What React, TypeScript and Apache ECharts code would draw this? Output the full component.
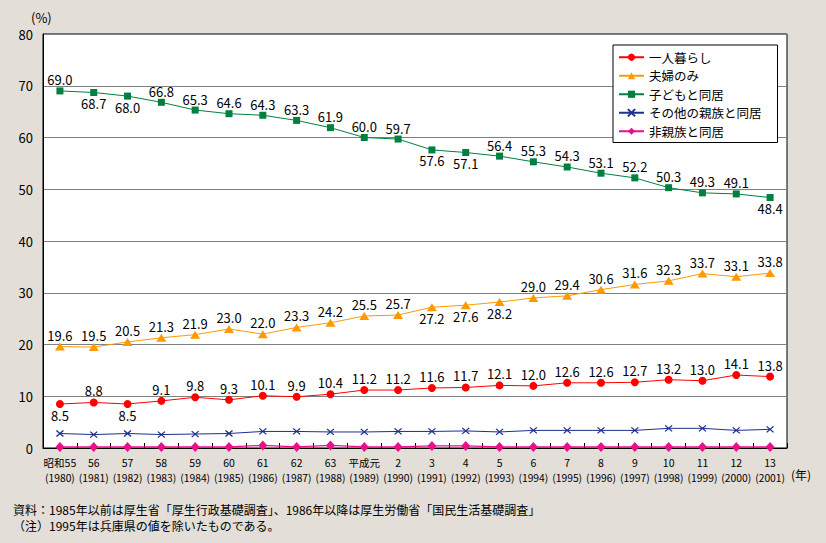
import React, { useEffect, useRef } from "react";
import * as echarts from "echarts";

const eraLabels = ["昭和55", "56", "57", "58", "59", "60", "61", "62", "63", "平成元", "2", "3", "4", "5", "6", "7", "8", "9", "10", "11", "12", "13"];
const years = ["1980", "1981", "1982", "1983", "1984", "1985", "1986", "1987", "1988", "1989", "1990", "1991", "1992", "1993", "1994", "1995", "1996", "1997", "1998", "1999", "2000", "2001"];

const livingAlone = [8.5, 8.8, 8.5, 9.1, 9.8, 9.3, 10.1, 9.9, 10.4, 11.2, 11.2, 11.6, 11.7, 12.1, 12.0, 12.6, 12.6, 12.7, 13.2, 13.0, 14.1, 13.8];
const coupleOnly = [19.6, 19.5, 20.5, 21.3, 21.9, 23.0, 22.0, 23.3, 24.2, 25.5, 25.7, 27.2, 27.6, 28.2, 29.0, 29.4, 30.6, 31.6, 32.3, 33.7, 33.1, 33.8];
const withChildren = [69.0, 68.7, 68.0, 66.8, 65.3, 64.6, 64.3, 63.3, 61.9, 60.0, 59.7, 57.6, 57.1, 56.4, 55.3, 54.3, 53.1, 52.2, 50.3, 49.3, 49.1, 48.4];
const otherRelatives = [2.8, 2.6, 2.8, 2.6, 2.7, 2.8, 3.2, 3.2, 3.1, 3.1, 3.2, 3.2, 3.3, 3.1, 3.4, 3.4, 3.4, 3.4, 3.8, 3.8, 3.4, 3.6];
const nonRelatives = [0.2, 0.2, 0.2, 0.2, 0.2, 0.2, 0.5, 0.2, 0.5, 0.2, 0.2, 0.4, 0.4, 0.2, 0.2, 0.2, 0.2, 0.2, 0.2, 0.2, 0.2, 0.2];

const seriesNames = ["一人暮らし", "夫婦のみ", "子どもと同居", "その他の親族と同居", "非親族と同居"];

// indices whose value label sits below the point
const aloneBelow = [0, 2];
const coupleBelow = [11, 12, 13];
const childrenBelow = [1, 2, 11, 12, 21];

const sourceNote = "資料：1985年以前は厚生省「厚生行政基礎調査」、1986年以降は厚生労働省「国民生活基礎調査」";
const remarkNote = "（注）1995年は兵庫県の値を除いたものである。";

const FONT = "'Noto Sans CJK JP', 'Noto Sans', sans-serif";

function labeled(values: number[], below: number[]) {
  return values.map((v, i) => ({
    value: v,
    label: { position: below.includes(i) ? "bottom" : "top" },
  }));
}

export default function App() {
  const ref = useRef<HTMLDivElement>(null);
  useEffect(() => {
    document.body.style.margin = "0";
    const chart = echarts.init(ref.current!, null, { renderer: "svg" });
    const valueLabel = {
      show: true,
      distance: 1,
      color: "#000",
      fontSize: 13,
      fontFamily: FONT,
      formatter: (p: any) => Number(p.value).toFixed(1),
    };
    chart.setOption({
      animation: false,
      backgroundColor: "#E3DED7",
      textStyle: { fontFamily: FONT },
      grid: {
        left: 43,
        right: 39,
        top: 34,
        bottom: 95,
        show: true,
        backgroundColor: "#fff",
        borderColor: "#000",
        borderWidth: 1,
      },
      legend: {
        orient: "vertical",
        left: 613,
        top: 45,
        backgroundColor: "#fff",
        borderColor: "#000",
        borderWidth: 1,
        borderRadius: 0,
        padding: [6, 16, 5, 5],
        itemWidth: 25,
        itemHeight: 9,
        itemGap: 6,
        textStyle: { fontSize: 12.5, color: "#000", fontFamily: FONT },
        data: seriesNames,
      },
      xAxis: [
        {
          type: "category",
          data: eraLabels,
          boundaryGap: true,
          axisLine: { lineStyle: { color: "#000", width: 1 } },
          axisTick: { show: true, inside: true, length: 5, lineStyle: { color: "#000" } },
          axisLabel: { interval: 0, color: "#000", fontSize: 10.5, lineHeight: 12, margin: 8, fontFamily: FONT },
          splitLine: { show: false },
        },
        {
          type: "category",
          position: "bottom",
          offset: 15,
          data: years.map((y) => `(${y})`),
          boundaryGap: true,
          axisLine: { show: false },
          axisTick: { show: false },
          axisLabel: { interval: 0, color: "#000", fontSize: 10.3, lineHeight: 12, margin: 8, fontFamily: FONT },
          splitLine: { show: false },
        },
      ],
      yAxis: {
        type: "value",
        min: 0,
        max: 80,
        interval: 10,
        axisLine: { show: true, lineStyle: { color: "#000", width: 1 } },
        axisTick: { show: false },
        axisLabel: { color: "#000", fontSize: 13, margin: 10, fontFamily: FONT },
        splitLine: { show: true, lineStyle: { color: "#808080", width: 1 } },
      },
      graphic: [
        { type: "text", left: 31, top: 11, style: { text: "(%)", fontSize: 13, fill: "#000", fontFamily: FONT } },
        { type: "text", left: 791, top: 468, style: { text: "(年)", fontSize: 12, fill: "#000", fontFamily: FONT } },
        { type: "text", left: 13, top: 503, style: { text: sourceNote, fontSize: 12, fill: "#000", fontFamily: FONT } },
        { type: "text", left: 13, top: 519, style: { text: remarkNote, fontSize: 12, fill: "#000", fontFamily: FONT } },
      ],
      series: [
        {
          name: seriesNames[0],
          type: "line",
          data: labeled(livingAlone, aloneBelow),
          symbol: "circle",
          symbolSize: 8,
          lineStyle: { color: "#FF0000", width: 1 },
          itemStyle: { color: "#FF0000" },
          label: valueLabel,
          z: 5,
        },
        {
          name: seriesNames[1],
          type: "line",
          data: labeled(coupleOnly, coupleBelow),
          symbol: "triangle",
          symbolSize: [10, 8],
          lineStyle: { color: "#FF9900", width: 1 },
          itemStyle: { color: "#FF9900" },
          label: valueLabel,
          z: 5,
        },
        {
          name: seriesNames[2],
          type: "line",
          data: labeled(withChildren, childrenBelow),
          symbol: "rect",
          symbolSize: 7,
          lineStyle: { color: "#008040", width: 1 },
          itemStyle: { color: "#008040" },
          label: valueLabel,
          z: 5,
        },
        {
          name: seriesNames[3],
          type: "line",
          data: otherRelatives,
          symbol: "path://M0,0L10,8M10,0L0,8",
          symbolSize: [7, 6],
          lineStyle: { color: "#1F2F8F", width: 1 },
          itemStyle: { color: "#1F2F8F", borderColor: "#1F2F8F", borderWidth: 1.2 },
          z: 4,
        },
        {
          name: seriesNames[4],
          type: "line",
          data: nonRelatives,
          symbol: "diamond",
          symbolSize: [9, 10],
          lineStyle: { color: "#EE0E8A", width: 1.2 },
          itemStyle: { color: "#EE0E8A" },
          z: 4,
        },
      ],
    });
    return () => chart.dispose();
  }, []);
  return <div ref={ref} style={{ position: "absolute", left: 0, top: 0, width: 826, height: 543 }} />;
}
